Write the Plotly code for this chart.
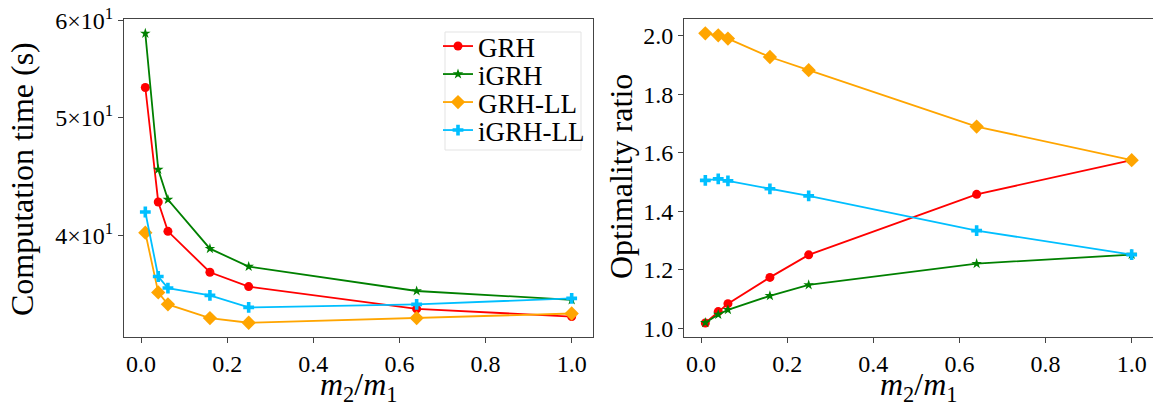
import plotly.graph_objects as go

x_ratio = [0.01, 0.04, 0.0625, 0.16, 0.25, 0.64, 1.0]

# Computation time (s)
time_grh = [52.9, 42.6, 40.3, 37.3, 36.3, 34.8, 34.3]
time_igrh = [58.6, 45.3, 42.8, 39.0, 37.7, 36.0, 35.4]
time_grh_ll = [40.2, 35.9, 35.1, 34.2, 33.9, 34.2, 34.5]
time_igrh_ll = [41.8, 37.0, 36.2, 35.7, 34.9, 35.1, 35.5]

# Optimality ratio
ratio_grh = [1.018, 1.057, 1.084, 1.174, 1.251, 1.458, 1.575]
ratio_igrh = [1.019, 1.047, 1.063, 1.111, 1.148, 1.221, 1.252]
ratio_grh_ll = [2.009, 2.002, 1.991, 1.928, 1.883, 1.690, 1.575]
ratio_igrh_ll = [1.506, 1.511, 1.504, 1.477, 1.453, 1.334, 1.252]

series_names = ["GRH", "iGRH", "GRH-LL", "iGRH-LL"]
colors = ["#ff0000", "#008000", "#ffa500", "#00bfff"]
symbols = ["circle", "star", "diamond", "cross"]
msizes = [9, 8, 11, 9]

left_tickvals = [40, 50, 60]
left_ticktext = ["4×10<sup>1</sup>", "5×10<sup>1</sup>", "6×10<sup>1</sup>"]
x_tickvals = [0.0, 0.2, 0.4, 0.6, 0.8, 1.0]
x_ticktext = ["0.0", "0.2", "0.4", "0.6", "0.8", "1.0"]
right_tickvals = [1.0, 1.2, 1.4, 1.6, 1.8, 2.0]
right_ticktext = ["1.0", "1.2", "1.4", "1.6", "1.8", "2.0"]

x_title = "<i>m</i><sub>2</sub>/<i>m</i><sub>1</sub>"
left_title = "Computation time (s)"
right_title = "Optimality ratio"

W, H = 1153, 405
TOP, BOTTOM = 19, 337
PH = BOTTOM - TOP
FONT = "Liberation Serif"


def py(p):
    return (BOTTOM - p) / PH


fig = go.Figure()

left_data = [time_grh, time_igrh, time_grh_ll, time_igrh_ll]
right_data = [ratio_grh, ratio_igrh, ratio_grh_ll, ratio_igrh_ll]
legend_ids = ["legend", "legend2", "legend3", "legend4"]
legend_rows = [46.5, 74.5, 102.5, 130.5]

for i, name in enumerate(series_names):
    fig.add_trace(go.Scatter(
        x=x_ratio, y=left_data[i], name=name, mode="lines+markers",
        line=dict(color=colors[i], width=1.8),
        marker=dict(symbol=symbols[i], size=msizes[i], color=colors[i]),
        xaxis="x", yaxis="y", showlegend=True, legend=legend_ids[i],
        legendgroup=name))
for i, name in enumerate(series_names):
    fig.add_trace(go.Scatter(
        x=x_ratio, y=right_data[i], name=name, mode="lines+markers",
        line=dict(color=colors[i], width=1.8),
        marker=dict(symbol=symbols[i], size=msizes[i], color=colors[i]),
        xaxis="x2", yaxis="y2", showlegend=False, legendgroup=name))

axis_common = dict(
    showline=True, linecolor="#444", linewidth=1, mirror=True,
    ticks="outside", ticklen=5, tickcolor="#444", tickwidth=1,
    showgrid=False, zeroline=False, automargin=False,
    tickfont=dict(family=FONT, size=24, color="black"),
)

fig.update_layout(
    width=W, height=H,
    margin=dict(l=0, r=0, t=TOP, b=H - BOTTOM, autoexpand=False),
    plot_bgcolor="white", paper_bgcolor="white",
    font=dict(family=FONT, color="black"),
    xaxis=dict(domain=[124 / W, 593 / W], range=[-0.0395, 1.0495],
               tickvals=x_tickvals, ticktext=x_ticktext, anchor="y",
               **axis_common),
    yaxis=dict(domain=[0, 1], type="log", range=[1.5185, 1.7797],
               tickvals=left_tickvals, ticktext=left_ticktext, anchor="x",
               **axis_common),
    xaxis2=dict(domain=[684 / W, 1.0], range=[-0.0395, 1.0495],
                tickvals=x_tickvals, ticktext=x_ticktext, anchor="y2",
                **axis_common),
    yaxis2=dict(domain=[0, 1], range=[0.970, 2.058],
                tickvals=right_tickvals, ticktext=right_ticktext, anchor="x2",
                **axis_common),
)

for lid, row in zip(legend_ids, legend_rows):
    fig.update_layout({lid: dict(
        x=438 / W, xanchor="left", y=py(row), yanchor="middle",
        xref="paper", yref="paper",
        bgcolor="rgba(0,0,0,0)", borderwidth=0,
        font=dict(family=FONT, size=27, color="black"),
        itemwidth=30)})

# legend frame
fig.add_shape(type="rect", xref="paper", yref="paper",
              x0=445 / W, x1=581 / W, y0=py(150), y1=py(32),
              line=dict(color="#e3e3e3", width=1),
              fillcolor="rgba(255,255,255,0.8)", layer="above")

annots = [
    dict(text=x_title, x=(124 + 593) / 2 / W, y=py(386), xanchor="center", yanchor="middle", textangle=0),
    dict(text=x_title, x=(684 + 1153) / 2 / W, y=py(386), xanchor="center", yanchor="middle", textangle=0),
    dict(text=left_title, x=22 / W, y=py(179), xanchor="center", yanchor="middle", textangle=-90),
    dict(text=right_title, x=621 / W, y=py(177), xanchor="center", yanchor="middle", textangle=-90),
]
for a in annots:
    fig.add_annotation(xref="paper", yref="paper", showarrow=False,
                       font=dict(family=FONT, size=32, color="black"), **a)

fig.write_html("out.html", config={"displayModeBar": False},
               post_script="document.body.style.margin='0';document.body.style.overflow='hidden';")
